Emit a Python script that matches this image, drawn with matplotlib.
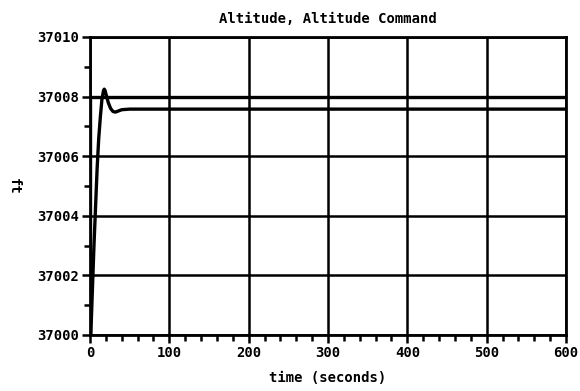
import matplotlib
matplotlib.use("Agg")
import matplotlib.pyplot as plt
from matplotlib.ticker import MultipleLocator

# Altitude response (seconds, feet)
time_s = [0, 1, 3, 5, 7, 9, 11, 13, 15, 17, 18, 19, 21, 23, 26, 29, 32, 36, 40, 50, 600]
altitude_ft = [37000.0, 37000.0, 37001.5, 37003.0, 37004.3, 37005.6, 37006.6, 37007.3,
               37007.9, 37008.2, 37008.25, 37008.2, 37008.0, 37007.8, 37007.6, 37007.5,
               37007.48, 37007.52, 37007.56, 37007.58, 37007.58]

# Altitude command: step at t = 0
cmd_time_s = [0, 0, 600]
cmd_altitude_ft = [37000.0, 37008.0, 37008.0]

x_ticks = [0, 100, 200, 300, 400, 500, 600]
y_ticks = [37000, 37002, 37004, 37006, 37008, 37010]

font = dict(family="DejaVu Sans Mono", weight="bold")
fs = 10

fig = plt.figure(figsize=(5.8, 3.91), dpi=100)
ax = fig.add_axes([90 / 580, 1 - 335 / 391, 476 / 580, 298 / 391])

ax.plot(cmd_time_s, cmd_altitude_ft, color="black", lw=2.4, solid_joinstyle="miter")
ax.plot(time_s, altitude_ft, color="black", lw=2.4)

ax.set_xlim(0, 600)
ax.set_ylim(37000, 37010)
ax.set_xticks(x_ticks)
ax.set_yticks(y_ticks)
ax.xaxis.set_minor_locator(MultipleLocator(20))
ax.yaxis.set_minor_locator(MultipleLocator(1))
ax.set_xticklabels([str(v) for v in x_ticks], fontsize=fs, **font)
ax.set_yticklabels([str(v) for v in y_ticks], fontsize=fs, **font)

ax.grid(True, which="major", color="black", lw=1.8)
ax.tick_params(which="major", direction="out", length=6, width=1.8, pad=2)
ax.tick_params(which="minor", direction="out", length=4, width=1.8)
for s in ax.spines.values():
    s.set_linewidth(2)

ax.set_title("Altitude, Altitude Command", fontsize=fs, pad=10, **font)
ax.set_xlabel("time (seconds)", fontsize=fs, labelpad=8, **font)
ax.set_ylabel("ft", fontsize=fs, rotation=270, labelpad=22, **font)

fig.savefig("out.png", dpi=100)
